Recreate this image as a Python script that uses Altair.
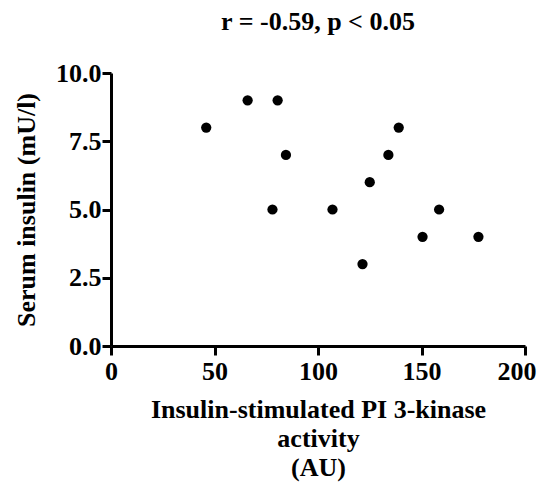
import altair as alt
import pandas as pd

pi3k_activity = [46, 66, 80.5, 84.5, 78, 107, 139, 134, 125, 158.5, 150.5, 121.5, 177.5]
serum_insulin = [8, 9, 9, 7, 5, 5, 8, 7, 6, 5, 4, 3, 4]
x_ticks = [0, 50, 100, 150, 200]
y_ticks = [0, 2.5, 5.0, 7.5, 10.0]

df = pd.DataFrame({"x": pi3k_activity, "y": serum_insulin})

FONT = "Liberation Serif"

chart = alt.Chart(df).mark_circle(size=105, color="black", opacity=1).encode(
    x=alt.X("x:Q", scale=alt.Scale(domain=[0, 200], nice=False),
            axis=alt.Axis(values=x_ticks, format="d",
                          title=["Insulin-stimulated PI 3-kinase", "activity", "(AU)"],
                          titlePadding=12, labelPadding=3,
                          labelAlign={"condition": {"test": "datum.value == 200", "value": "right"},
                                      "value": "center"},
                          labelOffset={"condition": {"test": "datum.value == 200", "value": 11},
                                       "value": 0})),
    y=alt.Y("y:Q", scale=alt.Scale(domain=[0, 10], nice=False),
            axis=alt.Axis(values=y_ticks, format=".1f",
                          title="Serum insulin (mU/l)", titlePadding=16, labelPadding=1)),
).properties(
    width=414, height=273,
    background="white",
    title=alt.TitleParams("r = -0.59, p < 0.05", font=FONT, fontSize=26,
                          fontWeight="bold", color="black", offset=25, anchor="middle"),
    autosize=alt.AutoSizeParams(type="none"),
    padding={"left": 103, "top": 65, "right": 12, "bottom": 138},
).configure_view(stroke=None).configure_axis(
    grid=False, domainColor="black", domainWidth=3, tickColor="black",
    tickWidth=3, tickSize=9, labelFont=FONT, labelFontSize=26, labelFontWeight="bold",
    labelColor="black", titleFont=FONT, titleFontSize=26, titleFontWeight="bold",
    titleColor="black", titleLineHeight=29, labelFlush=False, labelOverlap=False,
)

chart.save("out.html", embed_options={"renderer": "svg", "actions": False})
